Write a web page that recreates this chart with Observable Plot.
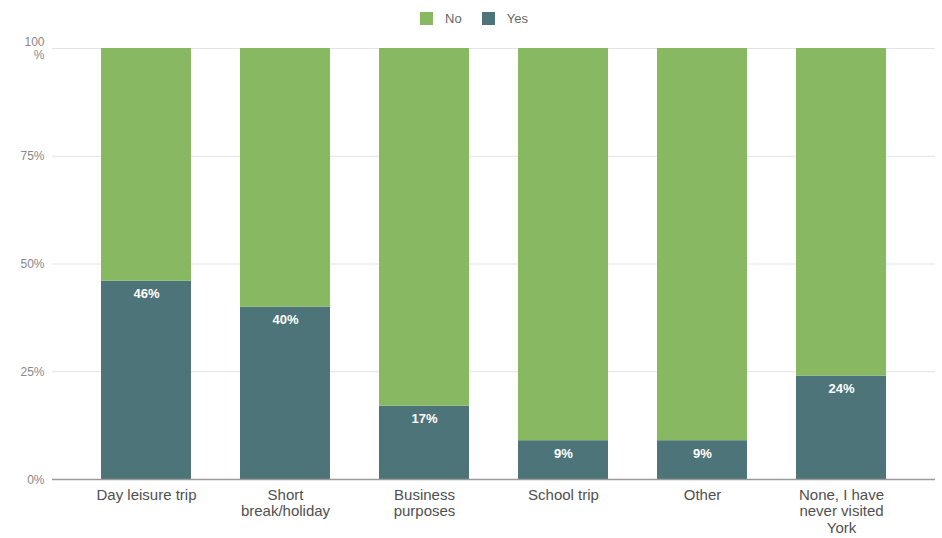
<!DOCTYPE html>
<html>
<head>
<meta charset="utf-8">
<script src="https://cdn.jsdelivr.net/npm/d3@7"></script>
<script src="https://cdn.jsdelivr.net/npm/@observablehq/plot@0.6"></script>
<style>
  body { margin: 0; background: #fff; font-family: "Liberation Sans", Arial, sans-serif; }
  #legend { height: 36px; display: flex; justify-content: center; align-items: center; gap: 0; font-size: 13px; color: #666; padding-left: 6px; box-sizing: border-box; }
  .item { display: flex; align-items: center; margin: 0 10px; }
  .sw { width: 13px; height: 13px; margin-right: 12px; }
</style>
</head>
<body>
<div id="legend"></div>
<div id="chart"></div>
<script>
const categories = ["Day leisure trip", "Short\nbreak/holiday", "Business\npurposes", "School trip", "Other", "None, I have\nnever visited\nYork"];
const yesValues = [46, 40, 17, 9, 9, 24];
const noValues = [54, 60, 83, 91, 91, 76];
const seriesNames = ["No", "Yes"];
const seriesColors = ["#88b861", "#4d7479"];
const yTicks = [0, 25, 50, 75, 100];
const yTickLabels = ["0%", "25%", "50%", "75%", "100\n%"];

const rows = [];
categories.forEach((c, i) => {
  rows.push({cat: c, series: "Yes", value: yesValues[i]});
  rows.push({cat: c, series: "No", value: noValues[i]});
});
const yesRows = rows.filter(d => d.series === "Yes");
const yTickRows = yTicks.map((t, i) => ({t, label: yTickLabels[i]}));

const legend = document.getElementById("legend");
seriesNames.forEach((s, i) => {
  const it = document.createElement("div");
  it.className = "item";
  it.innerHTML = `<span class="sw" style="background:${seriesColors[i]}"></span><span>${s}</span>`;
  legend.appendChild(it);
});

const chart = Plot.plot({
  width: 942,
  height: 502,
  marginTop: 12,
  marginBottom: 59,
  marginLeft: 52,
  marginRight: 7,
  style: {fontFamily: "Liberation Sans, Arial, sans-serif", background: "#fff"},
  x: {domain: categories, paddingInner: 0.3525, paddingOuter: 0.3525, label: null},
  y: {domain: [0, 100], label: null, axis: null},
  color: {domain: seriesNames, range: seriesColors},
  marks: [
    Plot.ruleY(yTicks.filter(t => t > 0), {stroke: "#e3e3e3", strokeWidth: 1}),
    Plot.barY(rows, {x: "cat", y: "value", fill: "series", order: ["Yes", "No"]}),
    Plot.ruleY([0], {stroke: "#9a9a9a", strokeWidth: 1.5}),
    Plot.text(yTickRows, {y: "t", text: "label", frameAnchor: "left", textAnchor: "end", dx: -8,
      fontSize: 12, fill: "#888", lineHeight: 1.1}),
    Plot.axisX({tickSize: 0, tickPadding: 8, fontSize: 15, fill: "#505050", lineAnchor: "top", lineHeight: 1.13}),
    Plot.text(yesRows, {x: "cat", y: "value", text: d => d.value + "%", fill: "#fff", fontWeight: "bold", fontSize: 13, dy: 13})
  ]
});
document.getElementById("chart").appendChild(chart);
</script>
</body>
</html>
